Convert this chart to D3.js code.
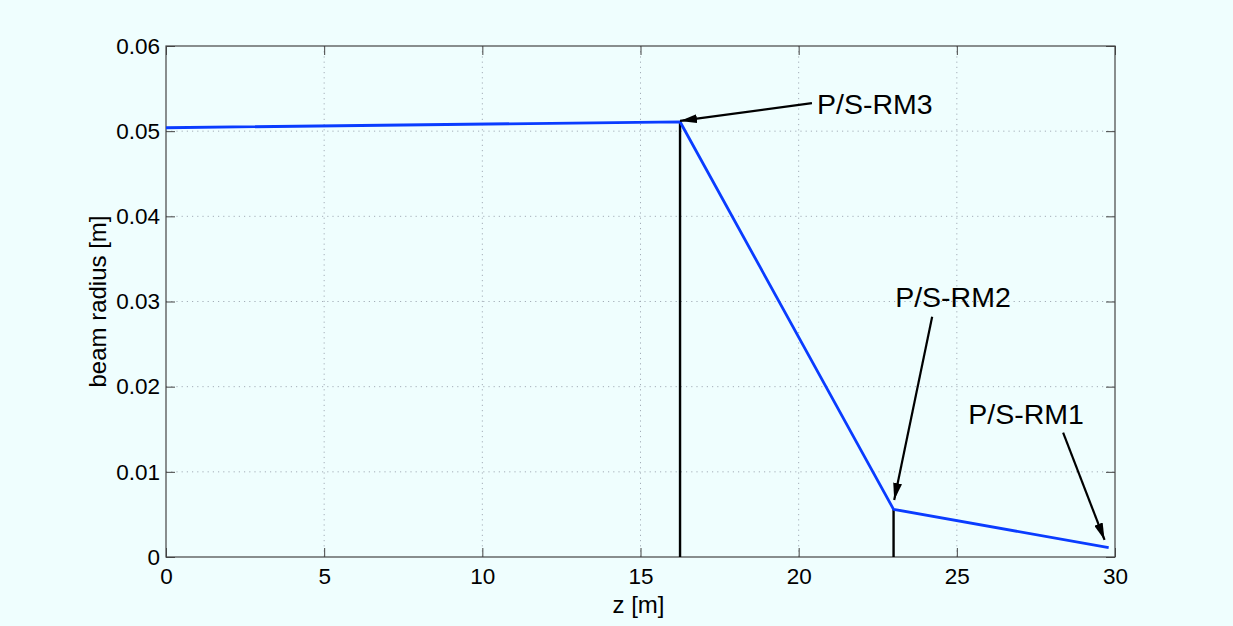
<!DOCTYPE html>
<html><head><meta charset="utf-8">
<script src="https://cdn.jsdelivr.net/npm/d3@7"></script>
<style>
html,body{margin:0;padding:0;background:#effefe;}
text{font-family:"Liberation Sans",Arial,Helvetica,sans-serif;fill:#000;}
</style></head>
<body><svg id="c" width="1233" height="626"></svg>
<script>
// Data
const zValues = [0, 16.25, 23.0, 29.8];
const radiusValues = [0.0504, 0.0511, 0.0056, 0.0011];
const magnetZ = [16.25, 23.0];
const magnetTop = [0.0511, 0.0056];
const xTicks = [0, 5, 10, 15, 20, 25, 30];
const yTicks = [0, 0.01, 0.02, 0.03, 0.04, 0.05, 0.06];
const yTickLabels = ["0", "0.01", "0.02", "0.03", "0.04", "0.05", "0.06"];
const annLabels = ["P/S-RM3", "P/S-RM2", "P/S-RM1"];
const annTextZ = [20.58, 23.05, 25.36];
const annTextR = [0.0520, 0.0294, 0.0156];
const annTailZ = [20.42, 24.22, 28.36];
const annTailR = [0.0533, 0.0282, 0.0146];
const annTipZ = [16.25, 23.02, 29.67];
const annTipR = [0.0512, 0.0067, 0.0020];

const L = 166, R = 1115, T = 46, B = 557;
const svg = d3.select("#c");
const x = d3.scaleLinear().domain([0, 30]).range([L, R]);
const y = d3.scaleLinear().domain([0, 0.06]).range([B, T]);

// grid
const g = svg.append("g");
g.selectAll(".gx").data(xTicks.slice(1, -1)).enter().append("line")
  .attr("x1", d => x(d)).attr("x2", d => x(d)).attr("y1", T).attr("y2", B)
  .attr("stroke", "#a4aeb8").attr("stroke-width", 1).attr("stroke-dasharray", "1.2,4");
g.selectAll(".gy").data(yTicks.slice(1, -1)).enter().append("line")
  .attr("y1", d => y(d)).attr("y2", d => y(d)).attr("x1", L).attr("x2", R)
  .attr("stroke", "#a4aeb8").attr("stroke-width", 1).attr("stroke-dasharray", "1.2,4");

// axes with inward ticks
const ax = d3.axisBottom(x).tickValues(xTicks).tickSize(-9).tickPadding(11).tickFormat(d3.format("d"));
const ay = d3.axisLeft(y).tickValues(yTicks).tickSize(-9).tickPadding(6).tickFormat((d, i) => yTickLabels[i]);
const axT = d3.axisTop(x).tickValues(xTicks).tickSize(-9).tickFormat("");
const ayR = d3.axisRight(y).tickValues(yTicks).tickSize(-9).tickFormat("");
function styleAxis(sel) {
  sel.select(".domain").remove();
  sel.selectAll("line").attr("stroke", "#444").attr("stroke-width", 1);
  sel.selectAll("text").style("font-size", "22.5px").attr("fill", "#000");
}
svg.append("g").attr("transform", `translate(0,${B})`).call(ax).call(styleAxis);
svg.append("g").attr("transform", `translate(${L},0)`).call(ay).call(styleAxis);
svg.append("g").attr("transform", `translate(0,${T})`).call(axT).call(styleAxis);
svg.append("g").attr("transform", `translate(${R},0)`).call(ayR).call(styleAxis);
svg.append("rect").attr("x", L).attr("y", T).attr("width", R - L).attr("height", B - T)
  .attr("fill", "none").attr("stroke", "#444").attr("stroke-width", 1.2);

// magnet vertical lines
svg.selectAll(".mag").data(magnetZ).enter().append("line")
  .attr("x1", d => x(d)).attr("x2", d => x(d)).attr("y1", y(0))
  .attr("y2", (d, i) => y(magnetTop[i]))
  .attr("stroke", "#000").attr("stroke-width", 2.4);

// beam line
const pts = zValues.map((z, i) => [z, radiusValues[i]]);
svg.append("path").datum(pts)
  .attr("d", d3.line().x(d => x(d[0])).y(d => y(d[1])))
  .attr("fill", "none").attr("stroke", "#0a3cff").attr("stroke-width", 2.8)
  .attr("stroke-linejoin", "round");

// annotations
svg.append("defs").append("marker").attr("id", "ah")
  .attr("viewBox", "0 0 17 9").attr("refX", 17).attr("refY", 4.5)
  .attr("markerWidth", 17).attr("markerHeight", 9).attr("markerUnits", "userSpaceOnUse")
  .attr("orient", "auto")
  .append("path").attr("d", "M0,0 L17,4.5 L0,9 Z").attr("fill", "#000");
annLabels.forEach((lab, i) => {
  svg.append("line")
    .attr("x1", x(annTailZ[i])).attr("y1", y(annTailR[i]))
    .attr("x2", x(annTipZ[i])).attr("y2", y(annTipR[i]))
    .attr("stroke", "#000").attr("stroke-width", 2.2).attr("marker-end", "url(#ah)");
  svg.append("text").attr("x", x(annTextZ[i])).attr("y", y(annTextR[i]))
    .style("font-size", "28.5px").text(lab);
});

// axis labels
svg.append("text").attr("x", (L + R) / 2 - 2).attr("y", 613).attr("text-anchor", "middle")
  .style("font-size", "24px").text("z [m]");
svg.append("text").attr("transform", `translate(106,${(T + B) / 2}) rotate(-90)`)
  .attr("text-anchor", "middle").style("font-size", "24px").text("beam radius [m]");
</script></body></html>
